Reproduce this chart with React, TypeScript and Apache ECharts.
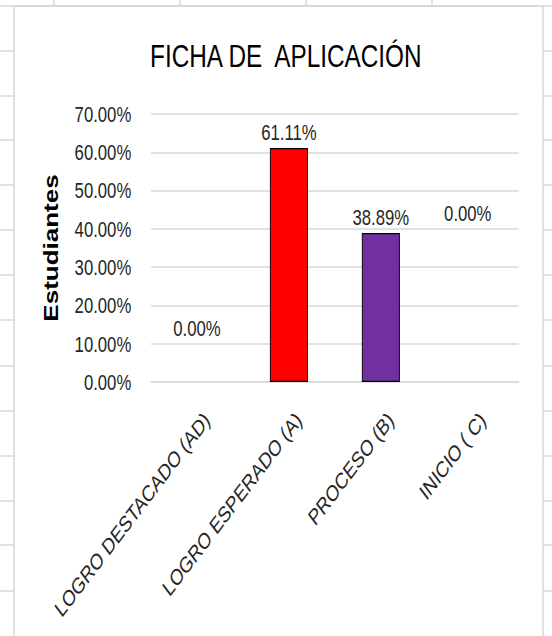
import React, { useEffect, useRef } from "react";
import * as echarts from "echarts";

const categories = ["LOGRO DESTACADO (AD)", "LOGRO ESPERADO (A)", "PROCESO (B)", "INICIO ( C)"];
const values = [0, 0.6111, 0.3889, 0];
const barColors = ["#FF0000", "#FF0000", "#7030A0", "#7030A0"];
const yTicks = [0, 0.1, 0.2, 0.3, 0.4, 0.5, 0.6, 0.7];
const titleText = "FICHA DE  APLICACIÓN";
const yName = "Estudiantes";

// horizontal compression of the reference picture
const SX = 0.76;
const W = 552 / SX;
const H = 636;
const FONT = "'Liberation Sans', Arial, sans-serif";

export default function App() {
  const ref = useRef<HTMLDivElement>(null);
  useEffect(() => {
    if (!ref.current) return;
    const chart = echarts.init(ref.current, undefined, { renderer: "svg" });
    const gx = (sx: number) => sx / SX;
    const lineColor = "#d9d9d9";
    const graphics: any[] = [];
    // spreadsheet cell lines outside chart area
    const rowYs = [51, 96, 140, 185, 230, 275, 320, 366, 411, 456, 501, 545, 591];
    rowYs.forEach((y) => {
      graphics.push({ type: "line", shape: { x1: 0, y1: y, x2: gx(14), y2: y }, style: { stroke: lineColor, lineWidth: 1.5 }, silent: true });
      graphics.push({ type: "line", shape: { x1: gx(543), y1: y, x2: W, y2: y }, style: { stroke: lineColor, lineWidth: 1.5 }, silent: true });
    });
    [54, 180, 306, 432].forEach((x) => {
      graphics.push({ type: "line", shape: { x1: gx(x), y1: 0, x2: gx(x), y2: 6 }, style: { stroke: lineColor, lineWidth: 2 }, silent: true });
    });
    graphics.push({ type: "line", shape: { x1: 0, y1: 6, x2: W, y2: 6 }, style: { stroke: lineColor, lineWidth: 1.5 }, silent: true });
    // chart area border
    graphics.push({
      type: "rect",
      shape: { x: gx(14), y: 6, width: gx(543) - gx(14), height: H + 10 },
      style: { fill: "#ffffff", stroke: lineColor, lineWidth: 2 },
      z: -10,
      silent: true,
    });

    const labelOffsets: Record<number, number[]> = { 0: [0, -38], 3: [-6.6, -153] };

    chart.setOption({
      animation: false,
      backgroundColor: "#ffffff",
      textStyle: { fontFamily: FONT },
      graphic: graphics,
      title: {
        text: titleText,
        left: gx(282),
        textAlign: "center",
        top: 35,
        textStyle: { fontFamily: FONT, fontSize: 32, fontWeight: "normal", color: "#000000" },
      },
      grid: { left: gx(151), right: W - gx(519), top: 114, bottom: H - 382, containLabel: false },
      xAxis: {
        type: "category",
        data: categories,
        axisLine: { show: true, lineStyle: { color: lineColor, width: 1.5 } },
        axisTick: { show: false },
        axisLabel: {
          rotate: 45,
          interval: 0,
          margin: 21,
          align: "right",
          verticalAlign: "top",
          padding: [7, 0, 0, 0],
          fontSize: 22.5,
          color: "#262626",
          fontFamily: FONT,
        },
      },
      yAxis: {
        type: "value",
        min: 0,
        max: 0.7,
        interval: 0.1,
        name: yName,
        nameLocation: "middle",
        nameRotate: 90,
        nameGap: 118,
        nameTextStyle: { fontFamily: FONT, fontSize: 26, fontWeight: "bold", color: "#000000" },
        axisLine: { show: false },
        axisTick: { show: false },
        splitLine: { lineStyle: { color: lineColor, width: 1.5 } },
        axisLabel: {
          margin: 26,
          fontSize: 22,
          color: "#262626",
          fontFamily: FONT,
          formatter: (v: number) => {
            const t = yTicks.find((k) => Math.abs(k - v) < 1e-9);
            return ((t ?? v) * 100).toFixed(2) + "%";
          },
        },
      },
      series: [
        {
          type: "bar",
          barWidth: 50,
          data: values.map((v, i) => ({
            value: v,
            itemStyle: {
              color: barColors[i],
              borderColor: v === 0 ? "transparent" : "#000000",
              borderWidth: v === 0 ? 0 : 1.2,
            },
            label: labelOffsets[i] ? { offset: labelOffsets[i] } : undefined,
          })),
          label: {
            show: true,
            position: "top",
            distance: 5,
            fontSize: 22,
            color: "#262626",
            fontFamily: FONT,
            formatter: (p: any) => (p.value * 100).toFixed(2) + "%",
          },
        },
      ],
    });
    return () => chart.dispose();
  }, []);

  return (
    <div style={{ position: "fixed", left: 0, top: 0, width: 552, height: H, overflow: "hidden", background: "#ffffff" }}>
      <div
        ref={ref}
        style={{ width: W, height: H, transform: `scaleX(${SX})`, transformOrigin: "0 0" }}
      />
    </div>
  );
}
